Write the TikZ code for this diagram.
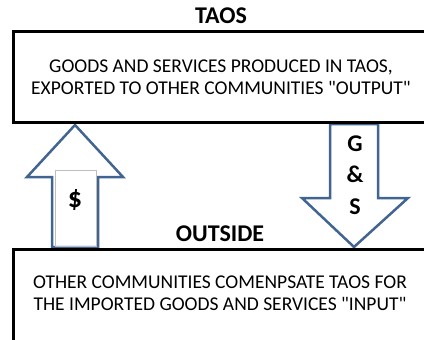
\documentclass[tikz,border=0pt]{standalone}
\usepackage{fontspec}
\setmainfont{Carlito}
\usetikzlibrary{positioning}
\definecolor{arrowblue}{RGB}{65,100,145}
\definecolor{shaftgray}{RGB}{190,190,190}

\begin{document}
\begin{tikzpicture}[x=1pt,y=-1pt,
    flowbox/.style={draw,line width=3pt},
    title/.style={font=\fontsize{24}{28}\selectfont\bfseries},
    body/.style={font=\fontsize{19.5}{22}\selectfont,align=center},
    bigarrow/.style={draw=arrowblue,line width=2.5pt,fill=white,line join=miter}]
    \useasboundingbox (0,0) rectangle (424,340);

    % Money arrow (up)
    \draw[bigarrow] (75,125) -- (123,177) -- (98,177) -- (98,247) -- (52,247) -- (52,177) -- (27,177) -- cycle;
    \draw[shaftgray,line width=0.8pt] (55,170) rectangle (96,246);
    \node[font=\fontsize{28}{30}\selectfont\bfseries] (money) at (75,200) {\$};

    % Goods arrow (down)
    \draw[bigarrow] (330,124) -- (378,124) -- (378,198) -- (408,198) -- (354,247) -- (302,198) -- (330,198) -- cycle;
    \node[align=center,font=\fontsize{24}{31.5}\selectfont\bfseries] (goods) at (355,175) {G\\\&\\S};

    % TAOS
    \node[title] (taos) at (221,16) {TAOS};
    \draw[flowbox] (13,31) rectangle (445,122);
    \node[body] (output) at (221,77) {GOODS AND SERVICES PRODUCED IN TAOS,\\EXPORTED TO OTHER COMMUNITIES \textquotedbl OUTPUT\textquotedbl};

    % OUTSIDE
    \node[title] (outside) at (220,234) {OUTSIDE};
    \draw[flowbox] (13,249) rectangle (445,360);
    \node[body] (input) at (220,293) {OTHER COMMUNITIES COMENPSATE TAOS FOR\\THE IMPORTED GOODS AND SERVICES \textquotedbl INPUT\textquotedbl};
\end{tikzpicture}
\end{document}
